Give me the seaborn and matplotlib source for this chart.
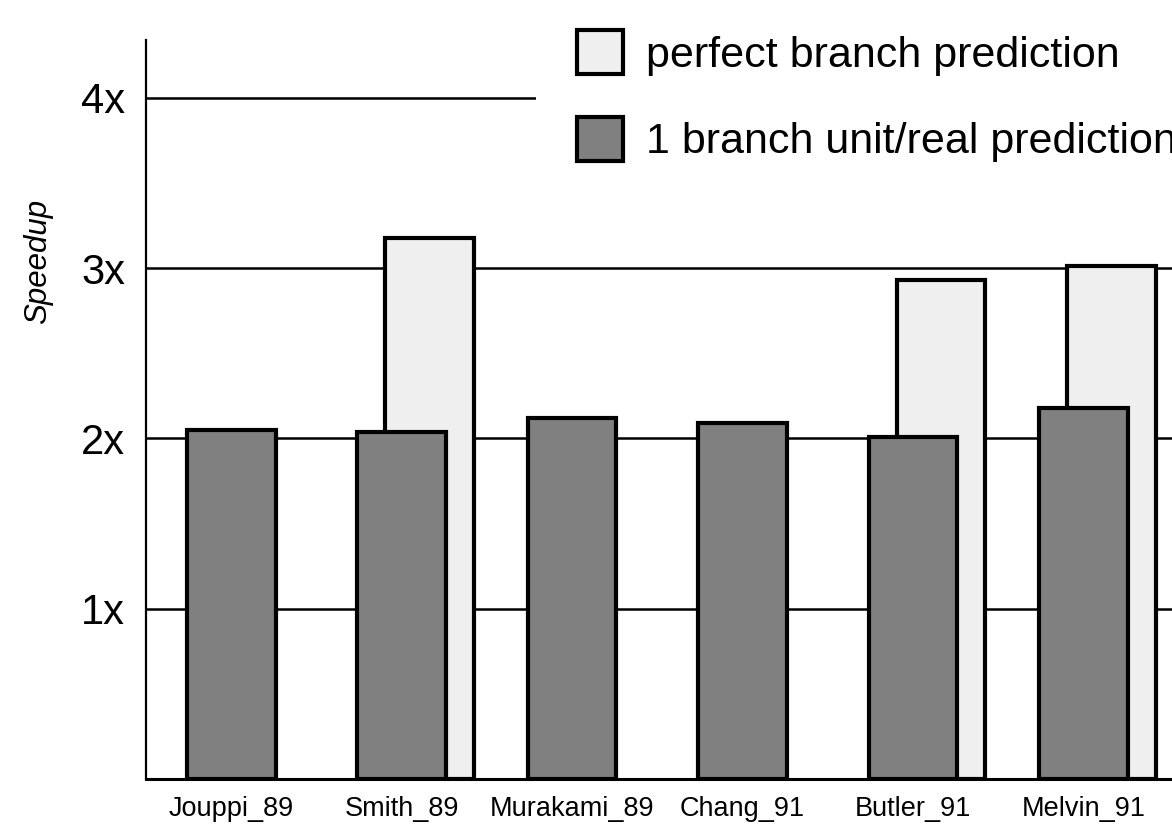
import numpy as np
import pandas as pd
import matplotlib
matplotlib.use('Agg')
import matplotlib.pyplot as plt
import matplotlib.patches as mpatches
import seaborn as sns

# Data
categories = ['Jouppi_89', 'Smith_89', 'Murakami_89', 'Chang_91', 'Butler_91', 'Melvin_91']
real_prediction = [2.05, 2.04, 2.12, 2.09, 2.01, 2.18]
perfect_prediction = [np.nan, 3.18, np.nan, np.nan, 2.93, 3.01]
y_ticks = [1, 2, 3, 4]
y_tick_labels = ['1x', '2x', '3x', '4x']
legend_labels = ['perfect branch prediction', '1 branch unit/real prediction']

# Style
sns.set_style('white')
plt.rcParams['font.family'] = ['Liberation Sans', 'DejaVu Sans']
plt.rcParams['text.color'] = 'black'
plt.rcParams['xtick.color'] = 'black'
plt.rcParams['ytick.color'] = 'black'
plt.rcParams['axes.labelcolor'] = 'black'

light = '#efefef'
dark = '#808080'
bar_w = 0.52
offset = 0.165

pos = np.arange(len(categories))
df_real = pd.DataFrame({'x': pos, 'speedup': real_prediction})
df_perf = pd.DataFrame({'x': pos + offset, 'speedup': perfect_prediction}).dropna()

fig = plt.figure(figsize=(11.72, 8.25), dpi=100)
ax = fig.add_axes([146 / 1172, 1 - 779 / 825, 1 - 146 / 1172, (779 - 40) / 825])

# perfect prediction bars sit behind, shifted right
sns.barplot(data=df_perf, x='x', y='speedup', native_scale=True, width=bar_w,
            color=light, saturation=1, edgecolor='black', linewidth=3, ax=ax)
sns.barplot(data=df_real, x='x', y='speedup', native_scale=True, width=bar_w,
            color=dark, saturation=1, edgecolor='black', linewidth=3, ax=ax)

ax.set_xlim(-0.5, 5.52)
ax.set_ylim(0, 4.34)
ax.set_xticks(pos)
ax.set_xticklabels(categories, fontsize=19.5)
ax.set_yticks(y_ticks)
ax.set_yticklabels(y_tick_labels, fontsize=30)
ax.tick_params(axis='x', length=0, pad=12)
ax.tick_params(axis='y', length=0, pad=15)
ax.set_xlabel('')
ax.set_ylabel('Speedup', fontsize=22.5, style='italic')
ax.yaxis.set_label_coords(-0.091, 0.70)

ax.yaxis.grid(True, color='black', linewidth=1.8)
ax.xaxis.grid(False)
ax.set_axisbelow(True)

for side in ['top', 'right']:
    ax.spines[side].set_visible(False)
ax.spines['left'].set_color('black')
ax.spines['left'].set_linewidth(1.6)
ax.spines['bottom'].set_color('black')
ax.spines['bottom'].set_linewidth(2.2)

handles = [mpatches.Patch(facecolor=light, edgecolor='black', linewidth=3),
           mpatches.Patch(facecolor=dark, edgecolor='black', linewidth=3)]
leg = ax.legend(handles, legend_labels, loc='upper left',
                bbox_to_anchor=(536 / 1172, 1.013), bbox_transform=fig.transFigure,
                fontsize=31, frameon=True, facecolor='white', edgecolor='none',
                framealpha=1, fancybox=False, borderpad=0.95, borderaxespad=0,
                handlelength=1.06, handleheight=1.2, handletextpad=0.55,
                labelspacing=0.95)

fig.savefig('out.png', dpi=100)
